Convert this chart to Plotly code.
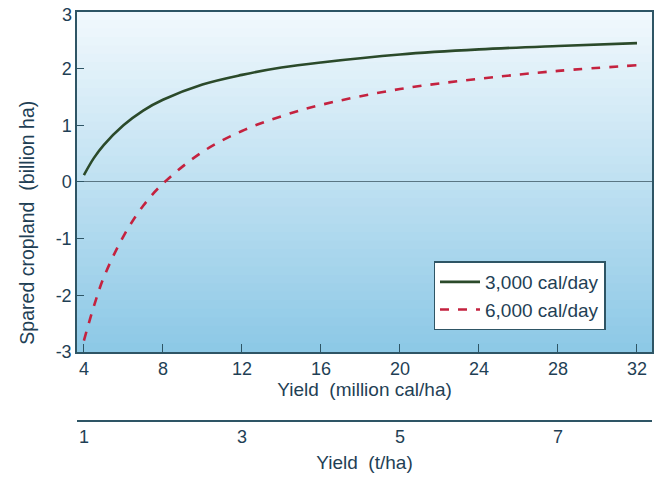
import plotly.graph_objects as go

# ---- data ----
yield_3000 = [4, 4.5, 5, 6, 7, 8, 10, 12, 14, 16, 20, 24, 28, 32]
spared_3000 = [0.12, 0.42, 0.65, 1.00, 1.26, 1.45, 1.72, 1.89, 2.02, 2.11, 2.25, 2.34, 2.40, 2.45]
yield_6000 = [4, 4.5, 5, 6, 7, 8, 10, 12, 14, 16, 20, 24, 28, 32]
spared_6000 = [-2.80, -2.20, -1.69, -0.96, -0.42, -0.03, 0.53, 0.90, 1.16, 1.36, 1.64, 1.82, 1.96, 2.06]
x_ticks = [4, 8, 12, 16, 20, 24, 28, 32]
y_ticks = [-3, -2, -1, 0, 1, 2, 3]
y_ticklabels = ["-3", "-2", "-1", "0", "1", "2", "3"]
tha_ticks = [1, 3, 5, 7]
series_names = ["3,000 cal/day", "6,000 cal/day"]

FONT = "Liberation Sans, Arial, sans-serif"
TXT = "#1f3f55"
AX = "#2e5565"
X_RANGE = [3.65, 32.76]

fig = go.Figure()
fig.add_trace(go.Scatter(x=yield_3000, y=spared_3000, mode="lines", name=series_names[0],
                         line=dict(color="#2b4a2a", width=2.6, shape="spline")))
fig.add_trace(go.Scatter(x=yield_6000, y=spared_6000, mode="lines", name=series_names[1],
                         line=dict(color="#c4223f", width=2.6, shape="spline", dash="dash")))
# invisible trace to carry the secondary (t/ha) axis
fig.add_trace(go.Scatter(x=list(tha_ticks), y=[None] * len(tha_ticks), xaxis="x2",
                         yaxis="y", mode="lines", showlegend=False, hoverinfo="skip"))

# vertical gradient background inside the plot area
top = (242, 249, 253)
bot = (140, 200, 230)
n = 40
shapes = []
for i in range(n):
    f = (i + 0.5) / n
    c = tuple(round(top[k] + (bot[k] - top[k]) * f) for k in range(3))
    shapes.append(dict(type="rect", xref="x domain", yref="y domain",
                       x0=0, x1=1, y0=1 - (i + 1) / n, y1=1 - i / n + 0.002,
                       fillcolor="rgb(%d,%d,%d)" % c, line=dict(width=0), layer="below"))

title_font = dict(family=FONT, size=19, color=TXT)

# the topmost y tick label sits at the page edge; draw it as text nudged down
axis_ticktext = y_ticklabels[:-1] + [""]
annotations = [
    dict(text="Spared cropland&nbsp; (billion ha)", textangle=-90,
         xref="paper", yref="paper", x=0, y=0.485, xshift=-50,
         xanchor="center", yanchor="middle", showarrow=False,
         font=dict(family=FONT, size=19.5, color=TXT)),
    dict(text=y_ticklabels[-1], xref="paper", yref="y", x=0, y=y_ticks[-1],
         xanchor="right", yanchor="middle", xshift=-3, yshift=-3, showarrow=False,
         font=dict(family=FONT, size=18, color=TXT)),
]

# page body adds an 8px offset, so the figure is sized/margined to compensate
fig.update_layout(
    width=655, height=469,
    margin=dict(l=69, r=11, t=4, b=56, autoexpand=False),
    paper_bgcolor="white", plot_bgcolor="rgba(0,0,0,0)",
    font=dict(family=FONT, size=18, color=TXT),
    shapes=shapes,
    annotations=annotations,
    showlegend=True,
    legend=dict(x=0.62, y=0.39, xanchor="left", yanchor="top",
                bgcolor="white", bordercolor=AX, borderwidth=1.5,
                font=dict(size=19, color=TXT), tracegroupgap=0,
                itemwidth=40),
    xaxis=dict(range=X_RANGE, tickvals=x_ticks, ticks="inside", ticklen=8,
               tickcolor=AX, tickwidth=1, showline=True, linecolor=AX, linewidth=1.5,
               mirror=True, showgrid=False, zeroline=False, automargin=False,
               title=dict(text="Yield&nbsp; (million cal/ha)", standoff=3, font=title_font),
               anchor="y"),
    xaxis2=dict(range=[X_RANGE[0] / 4, X_RANGE[1] / 4], tickvals=tha_ticks,
                overlaying="x", anchor="free", position=0, side="bottom",
                ticks="", showline=True, linecolor=AX, linewidth=1.5, automargin=False,
                showgrid=False, zeroline=False,
                title=dict(text="Yield&nbsp; (t/ha)", standoff=8, font=title_font)),
    yaxis=dict(range=[-3, 3], tickvals=y_ticks, ticktext=axis_ticktext, domain=[0.169, 1],
               ticks="inside", ticklen=7, tickcolor=AX, tickwidth=1, automargin=False,
               showline=True, linecolor=AX, linewidth=1.5, mirror=True,
               showgrid=False, zeroline=True, zerolinecolor="#5b7683", zerolinewidth=1),
)

fig.write_html("out.html")
